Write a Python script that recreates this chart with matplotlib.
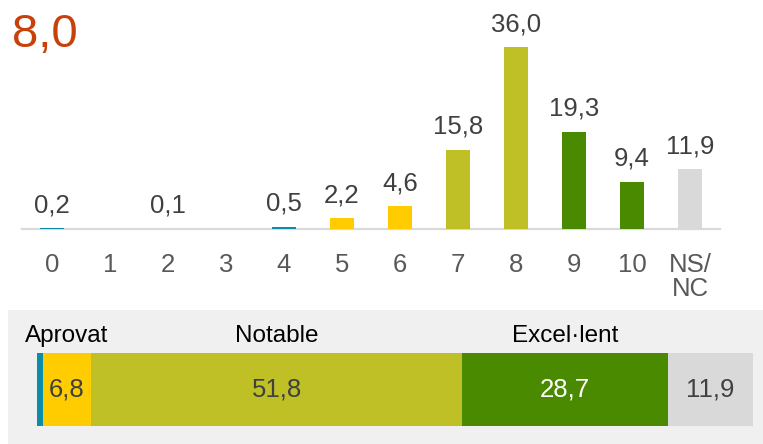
import matplotlib
matplotlib.use("Agg")
import matplotlib.pyplot as plt

plt.rcParams["font.family"] = ["Liberation Sans", "DejaVu Sans"]

# score distribution (%)
grades = ["0", "1", "2", "3", "4", "5", "6", "7", "8", "9", "10", "NS/\nNC"]
shares = [0.2, 0.0, 0.1, 0.0, 0.5, 2.2, 4.6, 15.8, 36.0, 19.3, 9.4, 11.9]
mean_score = "8,0"

# grouped summary bar
groups = ["Suspès", "Aprovat", "Notable", "Excel·lent", "NS/NC"]
group_shares = [0.8, 6.8, 51.8, 28.7, 11.9]
group_labels = ["", "Aprovat", "Notable", "Excel·lent", ""]

TEAL = "#0B8CA8"
YELLOW = "#FFCC00"
OLIVE = "#BFBF26"
GREEN = "#4A8A00"
GREY = "#D9D9D9"
bar_colors = [TEAL] * 5 + [YELLOW] * 2 + [OLIVE] * 2 + [GREEN] * 2 + [GREY]
group_colors = [TEAL, YELLOW, OLIVE, GREEN, GREY]
value_colors = ["#404040", "#404040", "#404040", "white", "#404040"]

W, H = 763, 444


def px_box(x0, y0, x1, y1):
    # pixel box (top-left origin) -> figure fraction rect
    return [x0 / W, (H - y1) / H, (x1 - x0) / W, (y1 - y0) / H]


def fmt(v):
    return f"{v:.1f}".replace(".", ",")


fig = plt.figure(figsize=(W / 100, H / 100), dpi=100)

# grey panel behind the summary bar
bg = fig.add_axes(px_box(8, 310, W, H), zorder=0)
bg.set_facecolor("#F0F0F0")
bg.set_xticks([])
bg.set_yticks([])
for s in bg.spines.values():
    s.set_visible(False)

fig.text(12 / W, (H - 47) / H, mean_score, fontsize=34, color="#C8410B",
         va="baseline", ha="left")

# --- distribution bars
ax = fig.add_axes(px_box(22, 40, 720, 229.5), zorder=1)
x = list(range(len(grades)))
ax.axhline(0, color="#D9D9D9", lw=1.6, zorder=2, clip_on=False)
ax.bar(x, shares, width=0.41, color=bar_colors, zorder=3)
ax.set_xlim((22 - 52) / 58, (720 - 52) / 58)
ax.set_ylim(0, 189.5 / 5.06)
for xi, v in zip(x, shares):
    if v > 0:
        ax.annotate(fmt(v), (xi, v), xytext=(0, 8), textcoords="offset points",
                    ha="center", va="bottom", fontsize=18.5, color="#404040")
ax.set_xticks(x)
ax.set_xticklabels(grades, fontsize=18.5, color="#595959", linespacing=1.0)
ax.tick_params(axis="x", length=0, pad=17)
ax.set_yticks([])
for s in ax.spines.values():
    s.set_visible(False)
ax.patch.set_visible(False)

# --- summary stacked bar
ax2 = fig.add_axes(px_box(37, 353, 753, 426), zorder=2)
left = 0
for val, col, lab, vcol in zip(group_shares, group_colors, group_labels, value_colors):
    ax2.barh(0, val, left=left, height=1, color=col, align="edge")
    mid = left + val / 2
    if val > 1:
        ax2.text(mid, 0.5, fmt(val), ha="center", va="center", fontsize=18.5, color=vcol)
    if lab:
        ax2.text(mid, 1 + 17 / 73, lab, ha="center", va="center", fontsize=17.5,
                 color="black")
    left += val
ax2.set_xlim(0, sum(group_shares))
ax2.set_ylim(0, 1)
ax2.axis("off")

fig.savefig("out.png", dpi=100)
